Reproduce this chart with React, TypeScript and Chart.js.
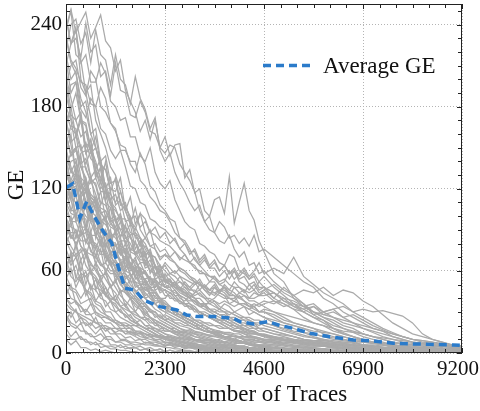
import React, { useEffect, useRef } from "react";
import { Chart, registerables } from "chart.js";

Chart.register(...registerables);

const FONT = "'Liberation Serif', 'Times New Roman', Times, serif";
const BLUE = "#2b7bca";
const GRAY = "#aaaaaa";
const GRID = "#b4b4b4";

const X_TITLE = "Number of Traces";
const Y_TITLE = "GE";
const LEGEND_LABEL = "Average GE";

const X_TICKS = [0, 2300, 4600, 6900, 9200];
const Y_TICKS = [0, 60, 120, 180, 240];

const X_GRID = [0, 115, 230, 345, 460, 575, 690, 805, 920, 1035, 1150, 1265, 1380, 1495, 1610, 1725, 1840, 1955, 2070, 2185,
  2300, 2415, 2530, 2645, 2760, 2875, 2990, 3105, 3220, 3335, 3450, 3565, 3680, 3795, 3910, 4025, 4140, 4255, 4370, 4485, 4600,
  4830, 5060, 5290, 5520, 5750, 5980, 6210, 6440, 6670, 6900, 7130, 7360, 7590, 7820, 8050, 8280, 8510, 8740, 8970, 9200];

const AVG_X = [0, 155, 325, 480, 635, 867, 1061, 1215, 1370, 1603, 1796, 2184, 2571, 2804, 3036, 3420, 3885, 4042, 4351, 4700, 4932, 5281, 5668, 6133, 6674, 7139, 7603, 8068, 8533, 8997, 9200];
const AVG_Y = [120.7, 123.6, 98.8, 110.7, 101, 88.7, 80.5, 63, 47.3, 46, 38.8, 33.9, 31.5, 27.8, 26.6, 26.6, 25.4, 22.9, 21.2, 22.9, 20.5, 18, 14.4, 11.9, 9.5, 8.8, 7.1, 6.6, 6.3, 5.9, 5.5];

// high traces
const h1 = [238, 251, 234, 242, 249, 230, 238, 247, 228, 223, 206, 214, 192, 184, 176, 162, 170, 156, 170, 150, 158, 144, 152, 153, 128, 134, 117, 120, 104, 100, 112, 114, 102, 129, 95, 110, 124, 104, 97, 82, 74,
  58, 52, 40, 36, 28, 24, 18, 14, 12, 9, 7, 6, 4, 3, 3, 2, 2, 1, 1, 1];
const h2 = [222, 240, 244, 226, 234, 212, 236, 218, 214, 196, 218, 200, 196, 182, 202, 186, 178, 164, 172, 148, 140, 146, 132, 124, 118, 110, 104, 108, 96, 90, 88, 96, 92, 84, 86, 80, 84, 78, 86, 74, 76,
  70, 64, 58, 52, 48, 40, 36, 30, 26, 22, 18, 16, 12, 10, 8, 7, 5, 4, 3, 2];
const h3 = [246, 226, 230, 216, 241, 220, 225, 202, 206, 188, 212, 192, 190, 174, 172, 184, 176, 162, 160, 150, 146, 152, 150, 138, 132, 126, 118, 104, 96, 100, 88, 82, 80, 86, 76, 70, 74, 64, 66, 58, 60,
  52, 46, 42, 36, 30, 26, 22, 18, 15, 12, 10, 8, 6, 5, 4, 3, 3, 2, 2, 1];
const h4 = [210, 226, 236, 212, 218, 198, 198, 212, 204, 184, 180, 170, 172, 158, 158, 144, 140, 150, 132, 124, 120, 126, 112, 104, 96, 92, 90, 80, 78, 74, 72, 66, 64, 72, 70, 60, 58, 54, 56, 48, 48,
  40, 36, 32, 26, 22, 20, 16, 14, 12, 10, 8, 6, 5, 4, 3, 2, 2, 1, 1, 1];
const h5 = [196, 210, 214, 194, 188, 206, 200, 180, 176, 168, 162, 152, 150, 138, 132, 146, 138, 122, 118, 108, 104, 98, 96, 84, 82, 76, 68, 64, 60, 56, 54, 50, 48, 46, 44, 40, 38, 36, 34, 36, 34,
  30, 26, 22, 20, 18, 14, 12, 10, 8, 6, 5, 4, 3, 3, 2, 2, 1, 1, 1, 0];
const h6 = [232, 214, 208, 198, 196, 182, 180, 194, 186, 168, 164, 148, 148, 140, 140, 126, 122, 114, 110, 104, 102, 96, 88, 84, 80, 74, 74, 66, 70, 62, 62, 56, 60, 54, 60, 52, 50, 46, 50, 44, 46,
  50, 44, 40, 34, 30, 26, 24, 20, 18, 14, 12, 10, 8, 6, 5, 4, 3, 2, 2, 1];
const h7 = [186, 196, 198, 178, 172, 186, 180, 164, 160, 148, 142, 148, 136, 122, 120, 110, 108, 98, 96, 92, 90, 86, 82, 76, 72, 66, 64, 58, 58, 52, 52, 46, 46, 42, 42, 36, 36, 34, 34, 30, 30,
  26, 22, 20, 18, 14, 12, 10, 9, 8, 6, 5, 4, 3, 3, 2, 2, 1, 1, 1, 0];
const h8 = [200, 178, 190, 170, 166, 148, 158, 138, 134, 118, 128, 110, 104, 94, 90, 102, 88, 78, 76, 68, 72, 70, 66, 60, 58, 54, 52, 50, 48, 46, 44, 42, 40, 40, 38, 36, 36, 34, 32, 30, 30,
  28, 24, 22, 20, 18, 16, 14, 12, 10, 9, 8, 6, 5, 4, 3, 3, 2, 2, 1, 1];

// middle traces
const m1 = [170, 154, 158, 174, 146, 150, 134, 124, 140, 116, 110, 118, 104, 94, 106, 90, 84, 90, 76, 70, 72, 68, 66, 62, 60, 56, 52, 50, 48, 44, 42, 46, 44, 40, 38, 36, 34, 32, 30, 28, 26,
  22, 20, 18, 15, 12, 10, 8, 7, 6, 5, 4, 3, 3, 2, 2, 1, 1, 1, 0, 0];
const m2 = [152, 166, 164, 150, 138, 148, 128, 136, 110, 106, 96, 102, 88, 94, 76, 82, 70, 76, 64, 60, 64, 58, 56, 52, 50, 46, 46, 42, 40, 36, 38, 34, 32, 30, 28, 26, 24, 24, 22, 20, 22,
  20, 17, 15, 13, 11, 9, 8, 7, 6, 5, 4, 3, 2, 2, 1, 1, 1, 0, 0, 0];
const m3 = [140, 124, 130, 146, 148, 128, 122, 108, 118, 98, 100, 84, 94, 74, 82, 70, 74, 58, 64, 52, 54, 52, 50, 46, 44, 42, 40, 36, 36, 32, 32, 30, 30, 26, 26, 24, 24, 20, 22, 18, 18,
  16, 14, 12, 10, 9, 8, 6, 5, 4, 4, 3, 2, 2, 1, 1, 1, 0, 0, 0, 0];
const m4 = [188, 174, 170, 158, 162, 146, 150, 136, 134, 120, 118, 128, 104, 114, 94, 102, 98, 88, 86, 82, 80, 78, 74, 70, 68, 66, 62, 60, 58, 56, 56, 52, 54, 50, 48, 48, 46, 44, 46, 42, 42,
  44, 38, 36, 34, 30, 28, 26, 22, 20, 18, 16, 14, 12, 10, 8, 7, 6, 5, 4, 3];
const m5 = [128, 140, 142, 124, 118, 126, 124, 110, 108, 98, 92, 100, 84, 80, 72, 80, 66, 72, 56, 64, 52, 50, 48, 44, 42, 40, 38, 34, 34, 30, 30, 28, 28, 26, 24, 22, 22, 20, 20, 18, 18,
  16, 14, 12, 10, 8, 7, 6, 5, 4, 3, 3, 2, 2, 1, 1, 1, 1, 0, 0, 0];
const m6 = [160, 144, 148, 136, 136, 124, 128, 118, 118, 108, 104, 98, 98, 88, 86, 78, 78, 72, 70, 60, 66, 62, 58, 62, 60, 56, 54, 50, 48, 46, 48, 44, 42, 40, 40, 44, 42, 38, 38, 36, 38,
  36, 40, 34, 32, 28, 30, 26, 24, 22, 20, 18, 16, 14, 12, 10, 9, 8, 6, 5, 4];
const m7 = [118, 104, 104, 118, 112, 98, 96, 90, 90, 82, 78, 82, 72, 64, 62, 66, 58, 52, 50, 46, 46, 44, 40, 38, 36, 34, 32, 30, 28, 26, 26, 24, 24, 22, 20, 18, 18, 16, 16, 14, 14,
  12, 10, 9, 8, 7, 6, 5, 4, 3, 3, 2, 2, 1, 1, 1, 1, 0, 0, 0, 0];
const m8 = [176, 164, 160, 148, 154, 142, 138, 128, 120, 110, 106, 96, 92, 84, 80, 74, 70, 64, 62, 56, 54, 52, 50, 46, 44, 40, 38, 36, 34, 32, 30, 28, 26, 24, 24, 22, 20, 20, 18, 18, 16,
  14, 12, 10, 9, 8, 7, 6, 5, 4, 3, 3, 2, 2, 1, 1, 1, 0, 0, 0, 0];
const m9 = [136, 146, 150, 136, 126, 116, 112, 106, 104, 94, 92, 86, 86, 76, 74, 68, 68, 60, 64, 56, 56, 58, 60, 56, 54, 52, 50, 52, 46, 44, 44, 46, 48, 44, 42, 40, 42, 40, 40, 42, 44,
  38, 36, 32, 30, 34, 28, 30, 26, 28, 24, 20, 17, 14, 12, 10, 9, 8, 7, 6, 5];
const m10 = [112, 122, 124, 108, 106, 96, 98, 90, 88, 82, 80, 72, 70, 64, 68, 60, 58, 54, 54, 50, 48, 46, 44, 42, 40, 38, 38, 34, 36, 32, 30, 32, 30, 28, 30, 28, 26, 26, 24, 24, 22,
  20, 18, 16, 15, 14, 12, 11, 10, 9, 8, 7, 6, 5, 5, 4, 4, 3, 3, 3, 3];
const m11 = [104, 96, 96, 86, 92, 82, 80, 74, 74, 66, 66, 60, 70, 62, 62, 56, 54, 56, 48, 52, 54, 50, 50, 56, 50, 48, 52, 46, 50, 46, 50, 44, 48, 42, 48, 44, 46, 40, 44, 42, 46,
  40, 48, 42, 46, 44, 48, 42, 46, 44, 38, 34, 28, 22, 18, 14, 12, 10, 8, 6, 5];
const m12 = [92, 84, 84, 98, 98, 84, 78, 72, 72, 64, 68, 62, 60, 64, 56, 52, 52, 48, 54, 46, 58, 52, 50, 46, 52, 48, 44, 50, 46, 42, 48, 44, 50, 46, 52, 48, 44, 50, 46, 52, 48,
  44, 40, 38, 34, 36, 30, 32, 34, 30, 32, 30, 31, 29, 27, 22, 14, 10, 8, 6, 5];
const m13 = [80, 88, 88, 78, 74, 72, 70, 64, 66, 60, 60, 54, 56, 52, 52, 46, 48, 44, 44, 40, 40, 44, 46, 40, 38, 42, 40, 36, 34, 38, 36, 32, 36, 34, 30, 32, 34, 28, 30, 28, 26,
  24, 22, 20, 18, 16, 15, 14, 12, 10, 9, 8, 7, 6, 5, 4, 4, 4, 3, 3, 3];
const m14 = [98, 92, 90, 82, 82, 88, 76, 86, 72, 66, 64, 58, 58, 54, 62, 56, 54, 48, 48, 52, 48, 50, 52, 46, 44, 40, 44, 46, 42, 38, 40, 44, 42, 36, 38, 42, 38, 34, 36, 34, 36,
  38, 34, 36, 32, 34, 30, 32, 26, 22, 18, 15, 12, 10, 8, 7, 6, 5, 5, 4, 4];
const m15 = [110, 102, 100, 92, 92, 86, 86, 78, 80, 74, 74, 68, 68, 64, 62, 58, 58, 54, 54, 50, 50, 48, 50, 52, 48, 46, 50, 54, 48, 52, 56, 50, 52, 60, 54, 58, 62, 56, 60, 66, 58,
  62, 58, 70, 56, 50, 44, 40, 36, 30, 26, 22, 18, 15, 12, 10, 8, 7, 6, 5, 4];
const m16 = [124, 114, 110, 114, 118, 104, 100, 90, 86, 78, 72, 68, 60, 58, 52, 50, 46, 44, 38, 38, 34, 32, 30, 28, 26, 24, 22, 20, 20, 18, 16, 15, 14, 13, 12, 12, 10, 10, 9, 9, 8,
  7, 6, 5, 4, 4, 3, 3, 2, 2, 2, 1, 1, 1, 1, 0, 0, 0, 0, 0, 0];
const m17 = [130, 122, 120, 112, 106, 114, 110, 96, 94, 88, 84, 78, 76, 70, 66, 62, 60, 54, 52, 48, 46, 44, 42, 38, 36, 34, 32, 30, 30, 28, 26, 24, 24, 22, 22, 20, 20, 18, 18, 16, 16,
  14, 13, 12, 10, 9, 8, 7, 6, 5, 5, 4, 3, 3, 2, 2, 2, 1, 1, 1, 1];
const m18 = [144, 132, 130, 120, 128, 114, 110, 102, 98, 92, 90, 82, 82, 74, 72, 66, 66, 60, 58, 54, 52, 50, 48, 46, 48, 44, 42, 44, 40, 40, 38, 36, 38, 36, 34, 36, 34, 32, 34, 30, 32,
  30, 28, 26, 24, 22, 20, 18, 16, 15, 14, 12, 11, 10, 9, 8, 7, 6, 5, 5, 4];
const m19 = [96, 86, 80, 86, 88, 74, 72, 64, 62, 58, 58, 52, 50, 46, 46, 42, 40, 36, 36, 32, 30, 30, 28, 28, 26, 24, 24, 22, 22, 20, 20, 18, 18, 18, 16, 16, 16, 14, 14, 14, 13,
  12, 11, 10, 9, 8, 8, 7, 6, 6, 5, 5, 4, 4, 4, 3, 3, 3, 2, 2, 2];
const m20 = [82, 74, 70, 74, 76, 64, 62, 56, 58, 48, 52, 46, 44, 40, 40, 34, 34, 30, 30, 26, 28, 26, 24, 24, 22, 22, 20, 20, 18, 18, 16, 16, 15, 15, 14, 14, 12, 12, 12, 11, 10,
  10, 9, 8, 8, 7, 7, 6, 6, 5, 5, 5, 4, 4, 4, 3, 3, 3, 3, 2, 2];
const m21 = [134, 122, 128, 116, 120, 108, 112, 102, 104, 96, 98, 90, 92, 86, 88, 80, 84, 78, 80, 74, 76, 70, 74, 68, 72, 66, 70, 64, 68, 62, 66, 60, 64, 58, 62, 56, 60, 54, 58, 52, 56,
  48, 42, 36, 30, 26, 22, 18, 15, 12, 10, 8, 7, 6, 5, 4, 3, 3, 2, 2, 1];
const m22 = [158, 146, 150, 138, 142, 128, 134, 120, 124, 112, 116, 104, 108, 98, 100, 92, 96, 88, 92, 84, 88, 80, 84, 76, 80, 72, 76, 68, 72, 64, 68, 60, 64, 58, 60, 54, 56, 50, 52, 46, 48,
  44, 38, 34, 30, 26, 24, 20, 18, 16, 14, 12, 10, 8, 7, 6, 5, 4, 3, 3, 2];

// fast-dropping traces
const l1 = [230, 212, 204, 186, 176, 160, 150, 136, 120, 110, 96, 84, 72, 62, 56, 50, 44, 40, 36, 32, 30, 28, 26, 24, 22, 20, 18, 17, 16, 15, 14, 13, 12, 11, 10, 9, 8, 8, 7, 6, 6, 5, 4, 3, 3, 2, 2, 1, 1, 0];
const l2 = [214, 190, 198, 170, 168, 150, 140, 126, 110, 96, 88, 76, 66, 58, 50, 46, 40, 36, 32, 30, 26, 24, 22, 20, 19, 18, 16, 15, 14, 13, 12, 11, 10, 9, 8, 7, 7, 6, 5, 5, 4, 4, 3, 2, 2, 1, 1, 0];
const l3 = [180, 170, 150, 152, 134, 126, 116, 104, 96, 84, 74, 66, 58, 50, 46, 40, 36, 32, 30, 26, 24, 22, 20, 18, 16, 15, 14, 12, 11, 10, 9, 8, 8, 7, 6, 5, 5, 4, 4, 3, 3, 2, 2, 1, 1, 0];
const l4 = [160, 144, 150, 128, 124, 112, 106, 92, 86, 74, 68, 60, 52, 48, 42, 38, 34, 30, 28, 24, 22, 20, 18, 16, 15, 14, 12, 11, 10, 9, 8, 7, 6, 6, 5, 4, 4, 3, 3, 2, 2, 1, 1, 0];
const l5 = [148, 136, 124, 128, 110, 102, 92, 86, 76, 68, 62, 54, 48, 42, 38, 34, 30, 26, 24, 22, 20, 18, 16, 14, 13, 12, 10, 9, 8, 7, 6, 6, 5, 4, 4, 3, 3, 2, 2, 1, 1, 0];
const l6 = [132, 120, 122, 106, 100, 96, 86, 80, 70, 64, 58, 50, 46, 40, 36, 32, 28, 26, 22, 20, 18, 16, 14, 12, 11, 10, 9, 8, 7, 6, 5, 4, 4, 3, 3, 2, 2, 1, 1, 0];
const l7 = [120, 112, 96, 102, 90, 80, 76, 66, 60, 54, 48, 42, 38, 34, 30, 26, 24, 20, 18, 16, 14, 12, 11, 10, 9, 8, 7, 6, 5, 4, 4, 3, 3, 2, 2, 1, 1, 0];
const l8 = [108, 96, 102, 90, 82, 76, 66, 60, 54, 48, 44, 38, 34, 30, 26, 24, 20, 18, 16, 14, 12, 11, 10, 9, 8, 7, 6, 5, 4, 4, 3, 3, 2, 2, 1, 1, 0];
const l9 = [94, 84, 90, 78, 72, 66, 60, 54, 48, 42, 38, 34, 30, 26, 24, 20, 18, 16, 14, 12, 11, 10, 9, 8, 7, 6, 5, 4, 4, 3, 3, 2, 2, 1, 1, 0];
const l10 = [86, 78, 72, 76, 64, 58, 54, 48, 42, 38, 34, 30, 28, 24, 22, 20, 18, 16, 14, 12, 11, 10, 9, 8, 7, 6, 5, 4, 3, 3, 2, 2, 1, 1, 0];
const l11 = [72, 64, 70, 58, 56, 48, 46, 40, 38, 32, 30, 26, 24, 22, 20, 18, 16, 14, 12, 11, 10, 9, 8, 7, 6, 5, 4, 4, 3, 3, 2, 2, 1, 1, 0];
const l12 = [64, 56, 52, 58, 46, 44, 38, 36, 30, 30, 24, 22, 20, 20, 16, 16, 14, 12, 10, 10, 8, 8, 7, 6, 5, 5, 4, 3, 3, 2, 2, 1, 1, 0];
const l13 = [56, 48, 46, 40, 46, 36, 34, 30, 28, 24, 22, 18, 18, 14, 14, 12, 11, 10, 9, 8, 8, 7, 6, 5, 5, 4, 4, 3, 3, 2, 2, 1, 1, 0];
const l14 = [48, 40, 38, 34, 30, 36, 28, 26, 22, 22, 18, 18, 14, 14, 12, 10, 10, 8, 8, 7, 6, 6, 5, 5, 4, 4, 3, 3, 2, 2, 1, 1, 0];
const l15 = [40, 34, 30, 26, 24, 20, 26, 18, 18, 14, 14, 10, 10, 8, 8, 7, 6, 6, 5, 5, 4, 4, 3, 3, 2, 2, 1, 1, 0];
const l16 = [34, 26, 32, 22, 22, 18, 14, 18, 12, 12, 8, 8, 6, 6, 4, 5, 3, 4, 2, 3, 1, 2, 1, 1, 0];
const l17 = [26, 20, 18, 22, 14, 14, 10, 8, 12, 6, 6, 4, 5, 3, 4, 2, 3, 1, 2, 1, 1, 0];
const l18 = [18, 12, 16, 10, 10, 6, 8, 4, 5, 3, 3, 2, 2, 1, 1, 0];
const l19 = [10, 6, 9, 4, 4, 2, 3, 1, 2, 1, 0];
const l20 = [100, 86, 80, 68, 74, 60, 56, 50, 44, 38, 36, 30, 28, 24, 22, 20, 18, 16, 14, 12, 11, 10, 9, 8, 8, 7, 6, 6, 5, 5, 4, 4, 3, 3, 3, 2, 2, 2, 1, 1, 1, 0];
const l21 = [170, 152, 132, 124, 108, 100, 90, 82, 70, 66, 56, 52, 44, 40, 34, 32, 26, 24, 20, 20, 16, 16, 14, 13, 12, 11, 10, 9, 8, 8, 7, 6, 6, 5, 5, 4, 4, 3, 3, 3, 2, 2, 1, 1, 1, 0];
const l22 = [196, 172, 160, 136, 128, 112, 104, 90, 82, 70, 66, 56, 52, 44, 40, 34, 32, 26, 24, 22, 20, 18, 16, 15, 14, 13, 12, 11, 10, 9, 8, 8, 7, 6, 6, 5, 5, 4, 4, 3, 3, 2, 2, 1, 1, 0];
const l23 = [62, 72, 56, 52, 46, 42, 36, 34, 28, 26, 22, 22, 18, 18, 14, 14, 11, 12, 9, 10, 7, 8, 6, 7, 5, 6, 4, 5, 3, 4, 3, 3, 2, 2, 2, 2, 1, 1, 1, 1, 1, 1, 1, 0];
const l24 = [42, 50, 36, 34, 28, 28, 22, 22, 18, 18, 14, 14, 11, 12, 9, 10, 7, 8, 6, 7, 5, 6, 4, 5, 3, 4, 3, 3, 2, 2, 2, 2, 1, 1, 1, 1, 0];
const l25 = [90, 100, 84, 96, 80, 88, 70, 82, 66, 74, 60, 66, 54, 58, 48, 50, 42, 44, 36, 38, 32, 30, 28, 26, 24, 22, 20, 18, 16, 15, 14, 12, 11, 10, 9, 8, 7, 6, 5, 4, 4, 3, 3, 2, 2, 1, 1, 0];
const l26 = [76, 66, 80, 60, 72, 58, 66, 52, 60, 48, 54, 44, 48, 40, 42, 36, 36, 30, 30, 26, 24, 22, 20, 18, 17, 16, 14, 13, 12, 11, 10, 9, 8, 7, 6, 5, 5, 4, 4, 3, 3, 2, 2, 1, 1, 0];
const l27 = [120, 104, 116, 96, 108, 88, 100, 80, 90, 72, 80, 64, 70, 56, 60, 50, 52, 44, 44, 38, 36, 34, 30, 28, 26, 24, 22, 20, 18, 16, 15, 14, 12, 11, 10, 9, 8, 7, 6, 5, 5, 4, 3, 3, 2, 2, 1, 1, 0];
const l28 = [104, 118, 100, 112, 92, 104, 86, 96, 78, 86, 70, 76, 62, 66, 54, 58, 46, 48, 40, 40, 34, 34, 28, 28, 24, 22, 20, 18, 16, 15, 14, 12, 11, 10, 9, 8, 7, 6, 6, 5, 5, 4, 3, 3, 2, 2, 1, 1, 0];
const l29 = [140, 126, 136, 116, 124, 104, 112, 94, 100, 82, 88, 72, 76, 62, 64, 54, 54, 46, 46, 40, 38, 34, 32, 30, 28, 26, 24, 22, 20, 18, 17, 16, 14, 13, 12, 11, 10, 9, 8, 8, 7, 6, 5, 4, 4, 3, 3, 2, 2, 1, 1, 0];
const l30 = [68, 58, 64, 52, 60, 46, 54, 42, 48, 38, 42, 34, 36, 30, 30, 26, 26, 22, 22, 18, 18, 16, 15, 14, 12, 11, 10, 9, 8, 8, 7, 6, 6, 5, 5, 4, 4, 3, 3, 3, 2, 2, 2, 1, 1, 0];
const l31 = [54, 62, 48, 56, 42, 50, 38, 44, 34, 38, 30, 32, 26, 28, 22, 24, 20, 20, 16, 16, 14, 13, 12, 11, 10, 9, 8, 8, 7, 6, 6, 5, 5, 4, 4, 3, 3, 3, 2, 2, 2, 1, 1, 1, 0];
const l32 = [150, 132, 140, 120, 126, 108, 114, 96, 100, 84, 88, 72, 74, 60, 62, 50, 50, 42, 42, 36, 34, 30, 28, 26, 24, 22, 20, 18, 16, 15, 14, 13, 12, 11, 10, 9, 8, 7, 6, 6, 5, 4, 3, 3, 2, 2, 1, 1, 0];
const l33 = [244, 226, 238, 200, 190, 172, 150, 140, 120, 112, 96, 90, 80, 70, 64, 60, 52, 48, 44, 40, 36, 34, 30, 28, 26, 24, 22, 20, 18, 16, 15, 14, 12, 11, 10, 9, 8, 7, 6, 5, 5, 4, 3, 2, 2, 1, 0];
const l34 = [236, 250, 218, 214, 190, 196, 170, 160, 150, 136, 130, 118, 106, 100, 88, 84, 76, 70, 64, 58, 54, 50, 46, 42, 40, 36, 34, 30, 28, 26, 24, 22, 20, 18, 16, 15, 14, 12, 11, 10, 9, 8, 6, 5, 4, 3, 2, 2, 1, 0];
const l35 = [218, 200, 206, 180, 184, 160, 164, 140, 144, 124, 126, 108, 110, 96, 92, 84, 80, 72, 70, 64, 60, 56, 52, 48, 46, 42, 40, 36, 34, 32, 30, 28, 26, 24, 22, 20, 18, 17, 16, 14, 13, 12, 10, 8, 7, 6, 5, 4, 3, 2, 2, 1, 1, 0];
const l36 = [202, 186, 170, 176, 150, 156, 130, 134, 112, 118, 96, 100, 84, 86, 72, 74, 62, 64, 54, 56, 48, 48, 42, 42, 36, 36, 32, 30, 28, 26, 24, 22, 20, 18, 17, 16, 14, 13, 12, 11, 10, 9, 7, 6, 5, 4, 3, 2, 2, 1, 0];
const l37 = [166, 180, 158, 170, 146, 156, 134, 142, 120, 128, 108, 112, 96, 98, 84, 84, 72, 74, 62, 64, 54, 54, 48, 46, 42, 40, 36, 34, 32, 30, 28, 26, 24, 22, 20, 19, 18, 16, 15, 14, 13, 11, 9, 8, 7, 6, 5, 4, 3, 2, 2, 1, 0];
const l38 = [126, 112, 134, 104, 120, 96, 110, 88, 100, 80, 90, 72, 80, 64, 70, 58, 60, 50, 52, 44, 46, 40, 40, 36, 36, 32, 32, 28, 28, 26, 24, 22, 22, 20, 18, 18, 16, 15, 14, 13, 12, 10, 9, 8, 7, 6, 5, 4, 3, 3, 2, 2, 1, 1, 0];
const l39 = [110, 124, 98, 116, 90, 108, 84, 100, 76, 90, 70, 80, 62, 72, 56, 62, 50, 54, 46, 48, 42, 42, 38, 38, 34, 34, 30, 30, 28, 26, 24, 24, 22, 20, 20, 18, 17, 16, 15, 14, 13, 11, 10, 9, 8, 7, 6, 5, 4, 3, 3, 2, 2, 1, 1, 0];
const l40 = [84, 96, 76, 90, 70, 84, 64, 76, 58, 68, 52, 60, 48, 54, 44, 48, 40, 42, 36, 38, 32, 34, 30, 30, 26, 28, 24, 24, 22, 22, 20, 20, 18, 18, 16, 16, 15, 14, 14, 13, 12, 11, 10, 9, 8, 7, 6, 5, 4, 4, 3, 3, 2, 2, 1, 1];
const l41 = [60, 74, 54, 68, 50, 62, 46, 56, 42, 50, 38, 46, 34, 40, 30, 36, 28, 32, 26, 28, 24, 26, 22, 22, 20, 20, 18, 18, 16, 16, 15, 15, 14, 14, 13, 12, 12, 11, 11, 10, 10, 9, 8, 7, 6, 5, 5, 4, 4, 3, 3, 2, 2, 1, 1, 1];
const l42 = [146, 160, 130, 144, 118, 130, 108, 118, 98, 106, 88, 96, 80, 86, 72, 76, 64, 68, 58, 60, 52, 54, 48, 48, 44, 44, 40, 40, 36, 36, 34, 32, 30, 30, 28, 26, 26, 24, 22, 22, 20, 18, 16, 14, 12, 11, 10, 9, 8, 7, 6, 5, 4, 3, 3, 2];

// floor traces
const z1 = [28, 22, 20, 16, 16, 12, 12, 14, 10, 10, 8, 9, 9, 7, 6, 6, 8, 7, 6, 5, 5, 7, 6, 5, 4, 6, 5, 4, 5, 3, 4, 4, 5, 4, 3, 4, 3, 2, 3, 3, 3,
  4, 3, 2, 3, 2, 3, 2, 2, 3, 2, 2, 3, 2, 2, 1, 2, 2, 1, 2, 1];
const z2 = [14, 10, 10, 12, 8, 8, 6, 7, 5, 5, 4, 6, 3, 4, 4, 2, 3, 2, 2, 3, 1, 2, 1, 2, 1, 1, 1, 2, 1, 1, 1, 0, 1, 1, 0, 1, 0, 1, 0, 1, 0,
  0, 1, 0, 0, 0, 1, 0, 0, 0, 0, 1, 0, 0, 0, 0, 0, 0, 0, 0, 0];
const z3 = [64, 70, 72, 58, 56, 60, 48, 46, 42, 40, 38, 34, 32, 30, 28, 26, 24, 26, 22, 22, 20, 18, 18, 16, 16, 17, 15, 15, 14, 12, 12, 13, 11, 11, 10, 12, 9, 10, 10, 8, 9,
  8, 7, 8, 6, 7, 6, 5, 6, 5, 4, 5, 4, 4, 3, 3, 4, 3, 3, 2, 3];
const z4 = [52, 46, 44, 36, 38, 40, 30, 28, 26, 24, 22, 20, 20, 18, 16, 15, 14, 12, 12, 11, 10, 9, 9, 8, 8, 7, 7, 6, 6, 5, 5, 5, 4, 4, 4, 3, 3, 3, 3, 2, 2,
  2, 2, 2, 2, 1, 1, 1, 1, 1, 1, 1, 1, 1, 1, 1, 1, 1, 1, 1, 1];
const z5 = [36, 32, 30, 28, 26, 24, 22, 20, 20, 18, 18, 16, 16, 15, 15, 14, 14, 13, 13, 12, 12, 12, 11, 11, 10, 10, 10, 9, 9, 9, 8, 8, 8, 8, 7, 7, 7, 7, 6, 6, 6,
  6, 6, 5, 5, 5, 5, 4, 4, 4, 4, 3, 3, 3, 3, 3, 3, 2, 2, 2, 2];
const z6 = [40, 36, 38, 30, 32, 28, 30, 26, 26, 24, 24, 22, 22, 20, 20, 20, 18, 18, 18, 17, 16, 16, 16, 15, 15, 14, 14, 14, 13, 13, 13, 12, 12, 12, 12, 11, 11, 11, 11, 10, 10,
  10, 10, 9, 9, 9, 9, 8, 8, 8, 8, 7, 7, 7, 7, 6, 6, 6, 6, 5, 5];
const z7 = [24, 30, 22, 26, 20, 22, 18, 20, 16, 18, 15, 17, 14, 16, 13, 15, 12, 14, 12, 13, 11, 12, 10, 11, 10, 11, 9, 10, 9, 10, 9, 10, 8, 9, 8, 9, 8, 9, 8, 8, 8,
  8, 7, 8, 7, 7, 7, 6, 7, 6, 6, 6, 5, 6, 5, 5, 5, 4, 5, 4, 4];

const GRAY_TRACES = [
  h1, h2, h3, h4, h5, h6, h7, h8,
  m1, m2, m3, m4, m5, m6, m7, m8, m9, m10, m11, m12, m13, m14, m15, m16, m17, m18, m19, m20, m21, m22,
  l1, l2, l3, l4, l5, l6, l7, l8, l9, l10, l11, l12, l13, l14, l15, l16, l17, l18, l19, l20,
  l21, l22, l23, l24, l25, l26, l27, l28, l29, l30, l31, l32, l33, l34, l35, l36, l37, l38, l39, l40, l41, l42,
  z1, z2, z3, z4, z5, z6, z7,
];

export default function App() {
  const ref = useRef<HTMLCanvasElement>(null);

  useEffect(() => {
    document.body.style.margin = "0";
    const canvas = ref.current;
    if (!canvas) return;

    const datasets: any[] = [
      {
        label: LEGEND_LABEL,
        data: AVG_X.map((x, i) => ({ x, y: AVG_Y[i] })),
        borderColor: BLUE,
        borderWidth: 3.5,
        borderDash: [8, 5],
        pointRadius: 0,
        fill: false,
        tension: 0,
      },
      ...GRAY_TRACES.map((tr, k) => ({
        label: "trace " + (k + 1),
        data: tr.slice(0, X_GRID.length).map((y, i) => ({ x: X_GRID[i], y })),
        borderColor: GRAY,
        borderWidth: 1.25,
        pointRadius: 0,
        fill: false,
        tension: 0,
      })),
    ];

    const overlay = {
      id: "overlay",
      afterDraw(chart: any) {
        const { ctx, chartArea: a } = chart;
        const xs = chart.scales.x;
        const ys = chart.scales.y;
        ctx.save();
        ctx.strokeStyle = "#222";
        ctx.lineWidth = 1;
        ctx.setLineDash([]);
        ctx.strokeRect(a.left + 0.5, a.top + 0.5, a.right - a.left - 1, a.bottom - a.top - 1);
        ctx.beginPath();
        const xStep = (X_TICKS[1] - X_TICKS[0]) / 6;
        for (let k = 0; k <= 24; k++) {
          const v = X_TICKS[0] + k * xStep;
          const px = Math.round(xs.getPixelForValue(v)) + 0.5;
          const len = k % 6 === 0 ? 5 : 4;
          ctx.moveTo(px, a.bottom);
          ctx.lineTo(px, a.bottom - len);
          ctx.moveTo(px, a.top);
          ctx.lineTo(px, a.top + len);
        }
        const yStep = (Y_TICKS[1] - Y_TICKS[0]) / 6;
        for (let k = 0; k <= 25; k++) {
          const v = k * yStep;
          if (v > ys.max) break;
          const py = Math.round(ys.getPixelForValue(v)) + 0.5;
          const len = k % 6 === 0 ? 5 : 4;
          ctx.moveTo(a.left, py);
          ctx.lineTo(a.left + len, py);
          ctx.moveTo(a.right, py);
          ctx.lineTo(a.right - len, py);
        }
        ctx.stroke();

        ctx.fillStyle = "#111";
        ctx.font = `21px ${FONT}`;
        ctx.textBaseline = "alphabetic";
        X_TICKS.forEach((v) => {
          const px = xs.getPixelForValue(v);
          const label = String(v);
          const w = ctx.measureText(label).width;
          let cx = px;
          if (cx + w / 2 > chart.width - 1) cx = chart.width - 1 - w / 2;
          ctx.textAlign = "center";
          ctx.fillText(label, cx, a.bottom + 22);
        });

        const ly = a.top + 61.5;
        ctx.strokeStyle = BLUE;
        ctx.lineWidth = 3.5;
        ctx.setLineDash([8, 5]);
        ctx.beginPath();
        ctx.moveTo(a.left + 197, ly);
        ctx.lineTo(a.left + 246, ly);
        ctx.stroke();
        ctx.setLineDash([]);
        ctx.font = `23px ${FONT}`;
        ctx.textAlign = "left";
        ctx.fillText(LEGEND_LABEL, a.left + 257, a.top + 69);

        ctx.textAlign = "center";
        ctx.fillText(X_TITLE, (a.left + a.right) / 2, a.bottom + 48);
        ctx.save();
        ctx.translate(23, 185);
        ctx.rotate(-Math.PI / 2);
        ctx.fillText(Y_TITLE, 0, 0);
        ctx.restore();
        ctx.restore();
      },
    };

    const chart = new Chart(canvas, {
      type: "line",
      data: { datasets },
      options: {
        animation: false,
        responsive: true,
        maintainAspectRatio: false,
        devicePixelRatio: 1,
        layout: { padding: { top: 4, right: 18, left: 0, bottom: 0 } },
        plugins: { legend: { display: false }, tooltip: { enabled: false } },
        elements: { line: { borderCapStyle: "butt" } },
        scales: {
          x: {
            type: "linear",
            min: 0,
            max: 9200,
            afterBuildTicks: (s: any) => {
              s.ticks = X_TICKS.map((v) => ({ value: v }));
            },
            afterFit: (s: any) => {
              s.height = 58;
              s.paddingLeft = 0;
              s.paddingRight = 0;
            },
            grid: { color: GRID, lineWidth: 1, drawTicks: false },
            border: { display: false, dash: [1, 2] },
            ticks: { display: false },
          },
          y: {
            type: "linear",
            min: 0,
            max: 255,
            afterBuildTicks: (s: any) => {
              s.ticks = Y_TICKS.map((v) => ({ value: v }));
            },
            afterFit: (s: any) => {
              s.width = 66;
              s.paddingTop = 0;
              s.paddingBottom = 0;
            },
            grid: { color: GRID, lineWidth: 1, drawTicks: false },
            border: { display: false, dash: [1, 2] },
            ticks: {
              font: { family: FONT, size: 21 },
              color: "#111",
              padding: 4,
              autoSkip: false,
              callback: (v: any) => String(v),
            },
          },
        },
      } as any,
      plugins: [overlay],
    });

    return () => chart.destroy();
  }, []);

  return (
    <div style={{ width: 480, height: 411, position: "relative" }}>
      <canvas ref={ref} />
    </div>
  );
}
